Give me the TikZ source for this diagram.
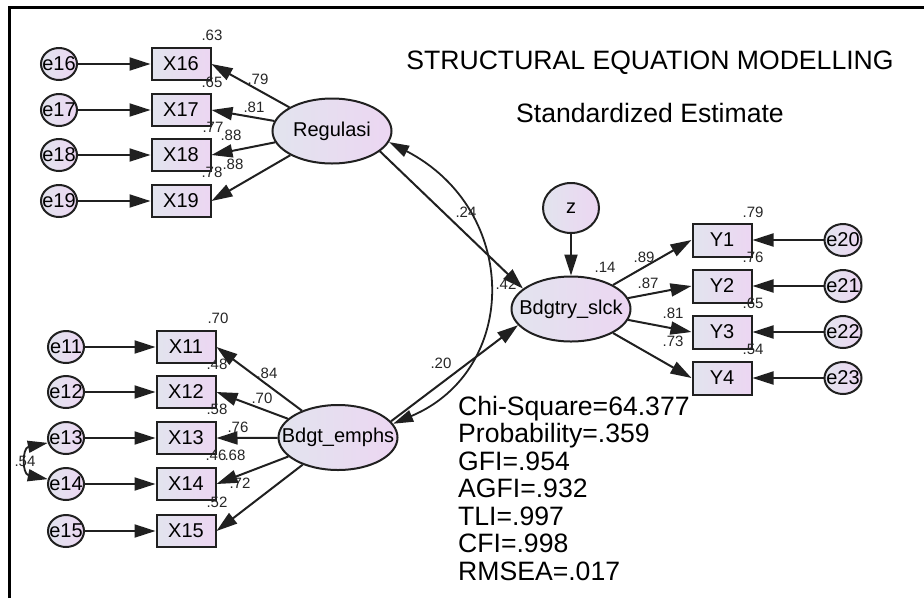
\documentclass[tikz,border=0pt]{standalone}
\usepackage{fontspec}
\setmainfont{Liberation Sans}
\usetikzlibrary{arrows.meta,shapes.geometric}
\definecolor{shadeL}{RGB}{226,228,238}
\definecolor{shadeR}{RGB}{236,214,242}
\definecolor{inkline}{RGB}{32,32,32}
\tikzset{
  basenode/.style={draw=inkline, line width=2pt, left color=shadeL, right color=shadeR,
    inner sep=0pt, font=\fontsize{20}{24}\selectfont},
  errnode/.style={basenode, ellipse, minimum width=36pt, minimum height=32pt},
  obsbox/.style={basenode, rectangle, minimum width=59pt, minimum height=32pt},
  latent/.style={basenode, ellipse, minimum width=119pt, minimum height=65pt},
  pathArrow/.style={draw=inkline, line width=2pt, -{Triangle[length=21pt,width=13pt]}},
  covArrow/.style={draw=inkline, line width=1.8pt,
    {Triangle[length=20pt,width=12pt]}-{Triangle[length=20pt,width=12pt]}},
  est/.style={font=\fontsize{15}{16}\selectfont, inner sep=0pt, text=black!85},
  fitstat/.style={font=\fontsize{26.6}{28}\selectfont, anchor=base west, inner sep=0pt},
  heading/.style={font=\fontsize{26.6}{30}\selectfont, anchor=base, inner sep=0pt},
}
\begin{document}
\begin{tikzpicture}[x=1pt,y=-1pt]
\useasboundingbox (0,0) rectangle (924,598);
\fill[white] (0,0) rectangle (924,598);

% frame
\draw[line width=3pt] (9.5,598) -- (9.5,7.5) -- (924,7.5);

% headings
\node[heading] (title) at (650,69) {STRUCTURAL EQUATION MODELLING};
\node[heading] (subtitle) at (650,122) {Standardized Estimate};

% latent variables
\node[latent] (reg) at (332,131) {\makebox[0pt]{Regulasi}};
\node[latent] (be) at (338,437.5) {\makebox[0pt]{Bdgt\_emphs}};
\node[latent] (bs) at (571,309) {\makebox[0pt]{Bdgtry\_slck}};
\node[basenode, ellipse, minimum width=56pt, minimum height=50pt] (z) at (571,208) {z};

% indicators of Regulasi
\foreach \n/\y in {16/64,17/110,18/155,19/201} {
  \node[errnode] (e\n) at (59,\y) {\makebox[0pt]{e\n}};
  \node[obsbox] (x\n) at (181,\y) {X\n};
}
% indicators of Bdgt_emphs
\foreach \n/\y in {11/347,12/392,13/438,14/484,15/531} {
  \node[errnode] (e\n) at (66,\y) {\makebox[0pt]{e\n}};
  \node[obsbox] (x\n) at (186,\y) {X\n};
}
% indicators of Bdgtry_slck
\foreach \n/\m/\y in {1/20/240,2/21/286,3/22/332,4/23/378} {
  \node[obsbox, minimum height=33pt] (y\n) at (722,\y) {Y\n};
  \node[errnode, minimum width=37pt] (e\m) at (843,\y) {\makebox[0pt]{e\m}};
}

% measurement paths
\foreach \n in {16,...,19} {
  \draw[pathArrow] (e\n) -- (x\n);
  \draw[pathArrow] (reg) -- (x\n.east);
}
\foreach \n in {11,...,15} {
  \draw[pathArrow] (e\n) -- (x\n);
  \draw[pathArrow] (be) -- (x\n.east);
}
\foreach \n/\m in {1/20,2/21,3/22,4/23} {
  \draw[pathArrow] (bs) -- (y\n.west);
  \draw[pathArrow] (e\m) -- (y\n);
}

% structural paths
\draw[pathArrow] (z) -- (bs);
\draw[pathArrow] (reg.-23) -- (bs.157);
\draw[pathArrow] (be.17) -- (bs.197);

% covariances
\draw[covArrow] (reg.-11) .. controls (520,210) and (520,370) .. (be.14);
\draw[covArrow] (e13.195) .. controls (22,448) and (22,474) .. (e14.165);

% estimates
\foreach \t/\x/\y [count=\i] in {
  .63/212/35, .79/258/79, .65/212/82, .81/254/107, .77/213/127, .88/231/135,
  .78/212/172, .88/233/164,
  .70/218/318, .48/217/364, .84/267/373, .70/262/398, .58/217/409, .76/238/427,
  .46/216/455, .68/235/455, .72/240/483, .52/217/502, .54/25/461,
  .24/466/212, .42/506/284, .20/441/363, .14/605/267,
  .89/644/257, .87/648/283, .81/673/313, .73/673/341,
  .79/753/212, .76/753/257, .65/753/303, .54/753/349} {
  \node[est] (est\i) at (\x,\y) {\t};
}

% fit statistics
\foreach \t [count=\i] in {Chi-Square=64.377, Probability=.359, GFI=.954,
  AGFI=.932, TLI=.997, CFI=.998, RMSEA=.017} {
  \node[fitstat] (stat\i) at (458,387.5+27.5*\i) {\t};
}
\end{tikzpicture}
\end{document}
